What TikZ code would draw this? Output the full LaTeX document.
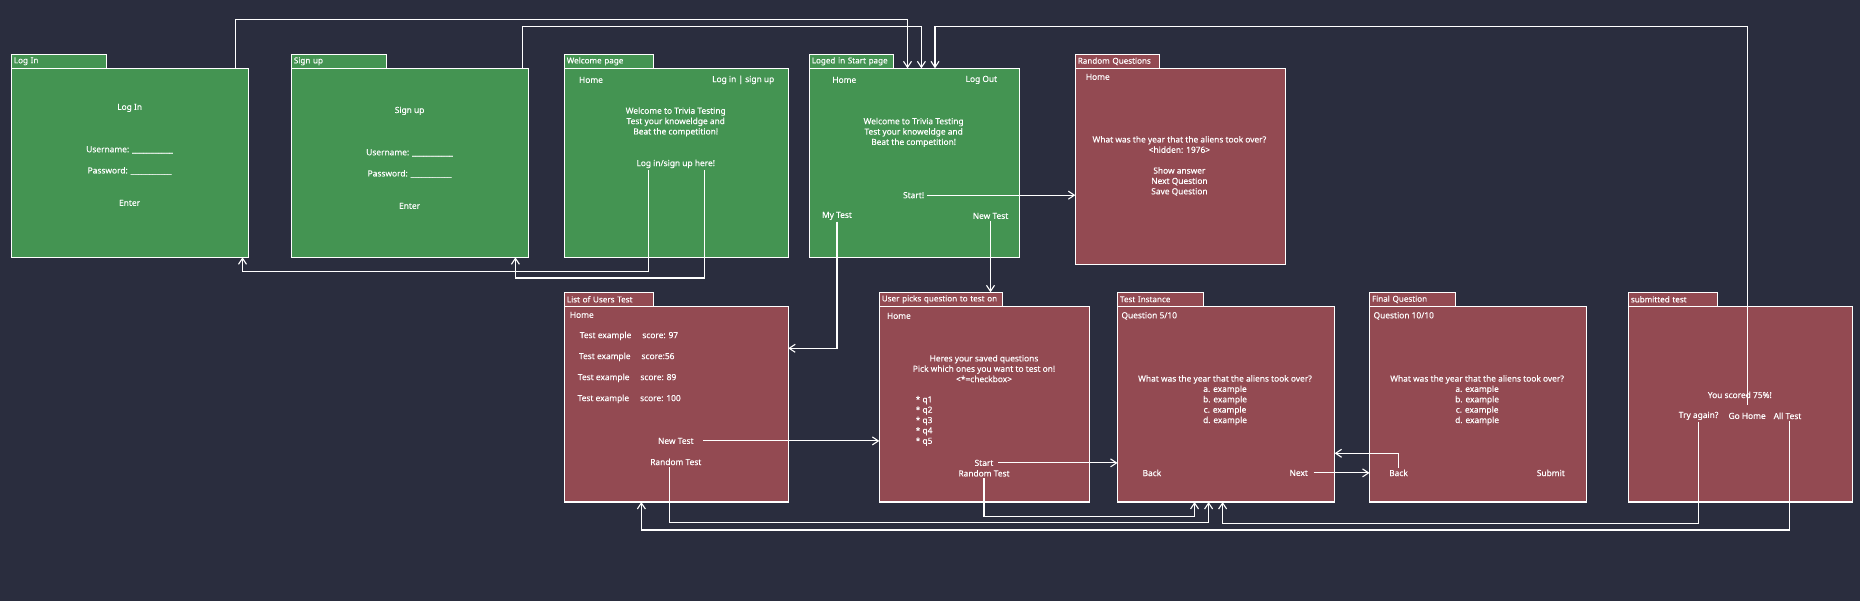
\documentclass[tikz,border=0pt]{standalone}
\usepackage{fontspec}
\setmainfont{Noto Sans}[FakeBold=0.25]
\usetikzlibrary{arrows.meta}
\definecolor{bgc}{RGB}{42,45,62}
\definecolor{gbox}{RGB}{68,148,82}
\definecolor{rbox}{RGB}{147,74,82}
\newcommand\diafont{\fontsize{8.4}{10.4}\selectfont}
\newcommand\tabfont{\fontsize{8.1}{10}\selectfont}
\begin{document}
\begin{tikzpicture}[x=1bp,y=-1bp,
  box/.style={draw=white, line width=1.2bp, anchor=north west, inner sep=0, outer sep=0},
  tabbox/.style={draw=white, line width=1.2bp, anchor=south west, outer sep=0, inner xsep=2.5bp, inner ysep=0, minimum height=14bp, text width=#1, align=left, font=\tabfont, text=white},
  lbl/.style={text=white, font=\diafont, inner sep=1.5bp, align=center, yshift=-0.9bp},
  lbll/.style={lbl, align=left, anchor=west},
  arr/.style={draw=white, line width=1.1bp, -{Straight Barb[length=6bp,width=8bp]}}
]
\fill[bgc] (0,0) rectangle (1860,601);
\useasboundingbox (0,0) rectangle (1860,601);

% ---------- boxes ----------
\node[box, fill=gbox, minimum width=236.8bp, minimum height=189bp] (bLogIn) at (11.4,68.3) {};
\node[tabbox=90bp, fill=gbox] (tLogIn) at (bLogIn.north west) {Log In};
\node[box, fill=gbox, minimum width=237.2bp, minimum height=189bp] (bSignUp) at (291.4,68.3) {};
\node[tabbox=90bp, fill=gbox] (tSignUp) at (bSignUp.north west) {Sign up};
\node[box, fill=gbox, minimum width=223.9bp, minimum height=189bp] (bWelcome) at (564.3,68.3) {};
\node[tabbox=84.3bp, fill=gbox] (tWelcome) at (bWelcome.north west) {Welcome page};
\node[box, fill=gbox, minimum width=210bp, minimum height=189bp] (bLogged) at (809.3,68.3) {};
\node[tabbox=79.3bp, fill=gbox] (tLogged) at (bLogged.north west) {Loged in Start page};
\node[box, fill=rbox, minimum width=210.2bp, minimum height=196bp] (bRandom) at (1075.3,68.3) {};
\node[tabbox=79.2bp, fill=rbox] (tRandom) at (bRandom.north west) {Random Questions};

\node[box, fill=rbox, minimum width=223.8bp, minimum height=195.7bp] (bList) at (564.4,306.3) {};
\node[tabbox=83.8bp, fill=rbox] (tList) at (bList.north west) {List of Users Test};
\node[box, fill=rbox, minimum width=210.5bp, minimum height=195.7bp] (bPicks) at (879.3,306.3) {};
\node[tabbox=118.1bp, fill=rbox] (tPicks) at (bPicks.north west) {\rlap{User picks question to test on}};
\node[box, fill=rbox, minimum width=217.1bp, minimum height=195.7bp] (bTest) at (1117.5,306.3) {};
\node[tabbox=81.2bp, fill=rbox] (tTest) at (bTest.north west) {Test Instance};
\node[box, fill=rbox, minimum width=217.2bp, minimum height=195.7bp] (bFinal) at (1369.5,306.3) {};
\node[tabbox=80.8bp, fill=rbox] (tFinal) at (bFinal.north west) {Final Question};
\node[box, fill=rbox, minimum width=223.9bp, minimum height=195.7bp] (bSub) at (1628.4,306.3) {};
\node[tabbox=84.1bp, fill=rbox] (tSub) at (bSub.north west) {submitted test};

% ---------- texts ----------
\node[lbl] (liTitle) at (129.6,107) {Log In};
\node[lbl] (liUser) at (129.6,149) {Username: \_\_\_\_\_\_\_\_\_\_\_};
\node[lbl] (liPass) at (129.6,170) {Password: \_\_\_\_\_\_\_\_\_\_\_};
\node[lbl] (liEnter) at (129.6,202) {Enter};

\node[lbl] (suTitle) at (409.6,110) {Sign up};
\node[lbl] (suUser) at (409.6,152) {Username: \_\_\_\_\_\_\_\_\_\_\_};
\node[lbl] (suPass) at (409.6,173) {Password: \_\_\_\_\_\_\_\_\_\_\_};
\node[lbl] (suEnter) at (409.6,205) {Enter};

\node[lbl] (wHome) at (591,79) {Home};
\node[lbl] (wLog) at (743.2,79) {Log in \textbf{|} sign up};
\node[lbl] (wText) at (675.7,121) {Welcome to Trivia Testing\\Test your knoweldge and\\Beat the competition!};
\node[lbl] (wHere) at (675.7,163) {Log in/sign up here!};

\node[lbl] (lHome) at (844.3,79) {Home};
\node[lbl] (lOut) at (981.4,79) {Log Out};
\node[lbl] (lText) at (913.6,131.5) {Welcome to Trivia Testing\\Test your knoweldge and\\Beat the competition!};
\node[lbl] (lStart) at (913.6,194.3) {Start!};
\node[lbl] (lMy) at (837,215) {My Test};
\node[lbl] (lNew) at (990.5,215) {New Test};

\node[lbl] (rHome) at (1097.8,76) {Home};
\node[lbl] (rText) at (1179.4,165) {What was the year that the aliens took over?\\<hidden: 1976>\\[10.4bp]Show answer\\Next Question\\Save Question};

\node[lbl] (uHome) at (581.8,314) {Home};
\node[lbll] (uRow1) at (578.1,335) {Test example\hspace{11bp}score: 97};
\node[lbll] (uRow2) at (577.3,356) {Test example\hspace{11bp}score:56};
\node[lbll] (uRow3) at (576.2,377) {Test example\hspace{11bp}score: 89};
\node[lbll] (uRow4) at (575.9,398) {Test example\hspace{11bp}score: 100};
\node[lbl] (uNew) at (675.8,440) {New Test};
\node[lbl] (uRand) at (675.8,461) {Random Test};

\node[lbl] (pHome) at (898.9,315) {Home};
\node[lbl] (pText) at (984,367.7) {Heres your saved questions\\Pick which ones you want to test on!\\<*=checkbox>};
\node[lbll] (pList) at (914,420) {* q1\\* q2\\* q3\\* q4\\* q5};
\node[lbl] (pStart) at (984,462) {Start};
\node[lbl] (pRand) at (984,472.4) {Random Test};

\node[lbll] (tQnum) at (1119.8,315) {Question 5/10};
\node[lbl] (tText) at (1225,399.2) {What was the year that the aliens took over?\\a. example\\b. example\\c. example\\d. example};
\node[lbl] (tBack) at (1151.9,472) {Back};
\node[lbl] (tNext) at (1298.7,472) {Next};

\node[lbll] (fQnum) at (1371.9,315) {Question 10/10};
\node[lbl] (fText) at (1477.1,399.2) {What was the year that the aliens took over?\\a. example\\b. example\\c. example\\d. example};
\node[lbl] (fBack) at (1398.5,472) {Back};
\node[lbl] (fSubmit) at (1550.8,472) {Submit};

\node[lbl] (sScore) at (1739.8,394) {You scored 75\%!};
\node[lbl] (sTry) at (1698.6,415) {Try again?};
\node[lbl] (sHome) at (1747.1,415) {Go Home};
\node[lbl] (sAll) at (1787.5,415) {All Test};

% ---------- corner coordinates ----------
\coordinate (r1) at (907.5,19.3);
\coordinate (r2) at (921.4,26.3);
\coordinate (r3) at (935,26.3);
\coordinate (r4) at (242.5,271.3);
\coordinate (r5) at (515.4,278);
\coordinate (r7) at (0,348.3);
\coordinate (r10) at (1208.6,522.3);
\coordinate (r11) at (1194.5,516.3);
\coordinate (r14) at (0,453.3);
\coordinate (r15) at (1222.6,523.3);
\coordinate (r16) at (641.4,530);

% ---------- connectors ----------
\draw[arr] ([xshift=-12.8bp]bLogIn.north east) |- (r1) -- (r1 |- bLogged.north);
\draw[arr] ([xshift=-6.1bp]bSignUp.north east) |- (r2) -- (r2 |- bLogged.north);
\draw[arr] ([yshift=6bp]sHome.north) |- (r3) -- (r3 |- bLogged.north);
\draw[arr] ([xshift=-27.5bp]wHere.south) |- (r4) -- (r4 |- bLogIn.south);
\draw[arr] ([xshift=28.9bp]wHere.south) |- (r5) -- (r5 |- bSignUp.south);
\draw[arr] ([xshift=1.5bp]lStart.east) -- (lStart.east -| bRandom.west);
\draw[arr] (lMy.south) |- (r7 -| bList.east);
\draw[arr] (lNew.south) -- (lNew.south |- tPicks.north);
\draw[arr] ([xshift=8bp]uNew.east) -- (uNew.east -| bPicks.west);
\draw[arr] ([xshift=-6.3bp]uRand.south) |- (r10) -- (r10 |- bTest.south);
\draw[arr] (pRand.south) |- (r11) -- (r11 |- bTest.south);
\draw[arr] ([xshift=3bp]pStart.east) -- (pStart.east -| bTest.west);
\draw[arr] ([xshift=4bp]tNext.east) -- (tNext.east -| bFinal.west);
\draw[arr] (fBack.north) |- (r14 -| bTest.east);
\draw[arr] (sTry.south) |- (r15) -- (r15 |- bTest.south);
\draw[arr] ([xshift=1.8bp]sAll.south) |- (r16) -- (r16 |- bList.south);
\end{tikzpicture}
\end{document}
